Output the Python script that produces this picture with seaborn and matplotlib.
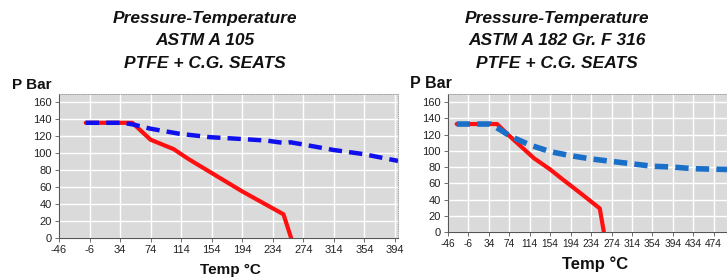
import matplotlib
matplotlib.use("Agg")
import matplotlib.pyplot as plt
import seaborn as sns

sns.set_theme(style="white")
plt.rcParams['font.family'] = ['Liberation Sans', 'DejaVu Sans']

# ---- data ----
x_ticks_left = [-46, -6, 34, 74, 114, 154, 194, 234, 274, 314, 354, 394]
x_ticks_right = [-46, -6, 34, 74, 114, 154, 194, 234, 274, 314, 354, 394, 434, 474]
y_ticks = [0, 20, 40, 60, 80, 100, 120, 140, 160]

left_red_x = [-11, 50, 74, 104, 124, 194, 248, 258]
left_red_y = [136, 136, 116, 105, 93, 55, 28, 0]
left_blue_x = [-11, 38, 51, 74, 112, 152, 191, 226, 250, 257, 270, 313, 353, 398]
left_blue_y = [136, 136, 134, 129, 123, 119, 117, 115, 112, 113, 111, 104, 99, 91]

right_red_x = [-29, 50, 73, 122, 154, 180, 213, 251, 259]
right_red_y = [133, 133, 119, 91, 77, 64, 48, 29, 0]
right_blue_x = [-29, 37, 56, 76, 115, 154, 194, 234, 274, 314, 354, 394, 434, 500]
right_blue_y = [133, 133, 126, 118, 107, 99, 94, 90, 87, 84, 81, 80, 78, 77]

titles_left = ["Pressure-Temperature", "ASTM A 105", "PTFE + C.G. SEATS"]
titles_right = ["Pressure-Temperature", "ASTM A 182 Gr. F 316", "PTFE + C.G. SEATS"]

W, H = 727, 279
fig = plt.figure(figsize=(W / 100, H / 100), dpi=100)
fig.patch.set_facecolor("white")

def px(x0, y0, x1, y1):
    return [x0 / W, 1 - y1 / H, (x1 - x0) / W, (y1 - y0) / H]

ax1 = fig.add_axes(px(59, 94, 398, 238))
ax2 = fig.add_axes(px(448, 94, 727, 232))

def style(ax, xt, xlim, blue, rx, ry, bx, by, tick_fs, blw, dash):
    ax.set_facecolor("#dadada")
    sns.lineplot(x=rx, y=ry, ax=ax, color="#ff1010", linewidth=3, sort=False)
    sns.lineplot(x=bx, y=by, ax=ax, color=blue, linewidth=blw, sort=False,
                 linestyle=(0, dash))
    ax.set_xlim(*xlim)
    ax.set_ylim(0, 170)
    ax.set_xticks(xt)
    ax.set_xticklabels([str(v) for v in xt], fontsize=tick_fs, color="#222222")
    ax.set_yticks(y_ticks)
    ax.set_yticklabels([str(v) for v in y_ticks], fontsize=8, color="#222222")
    ax.grid(True, color="white", linewidth=1.0)
    ax.set_axisbelow(True)
    for s in ["left", "bottom"]:
        ax.spines[s].set_color("#555555")
        ax.spines[s].set_linewidth(0.8)
    for s in ["top", "right"]:
        ax.spines[s].set_color("#999999")
        ax.spines[s].set_linewidth(0.6)
        ax.spines[s].set_linestyle(":")
    ax.tick_params(axis="both", length=3, width=0.6, color="#555555", pad=2,
                   direction="out", bottom=True, left=True)
    ax.set_xlabel("")
    ax.set_ylabel("")

style(ax1, x_ticks_left, (-46, 398), "#1010ee",
      left_red_x, left_red_y, left_blue_x, left_blue_y, 8, 3.2, (3.0, 1.6))
style(ax2, x_ticks_right, (-46, 500), "#1a70c8",
      right_red_x, right_red_y, right_blue_x, right_blue_y, 7.3, 4.0, (2.4, 1.3))

# titles
for i, t in enumerate(titles_left):
    fig.text(205 / W, 1 - (19 + 22 * i) / H, t, ha="center", va="center",
             fontsize=12.5, fontweight="bold", fontstyle="italic", color="#111111")
for i, t in enumerate(titles_right):
    fig.text(557 / W, 1 - (19 + 22 * i) / H, t, ha="center", va="center",
             fontsize=12.5, fontweight="bold", fontstyle="italic", color="#111111")

# axis labels
fig.text(12 / W, 1 - 85 / H, "P Bar", ha="left", va="center",
         fontsize=11, fontweight="bold", color="#111111")
fig.text(410 / W, 1 - 84 / H, "P Bar", ha="left", va="center",
         fontsize=11.5, fontweight="bold", color="#111111")
fig.text(230 / W, 1 - 270 / H, "Temp \u00b0C", ha="center", va="center",
         fontsize=11, fontweight="bold", color="#111111")
fig.text(595 / W, 1 - 264 / H, "Temp \u00b0C", ha="center", va="center",
         fontsize=12, fontweight="bold", color="#111111")

fig.savefig("out.png", dpi=100)
